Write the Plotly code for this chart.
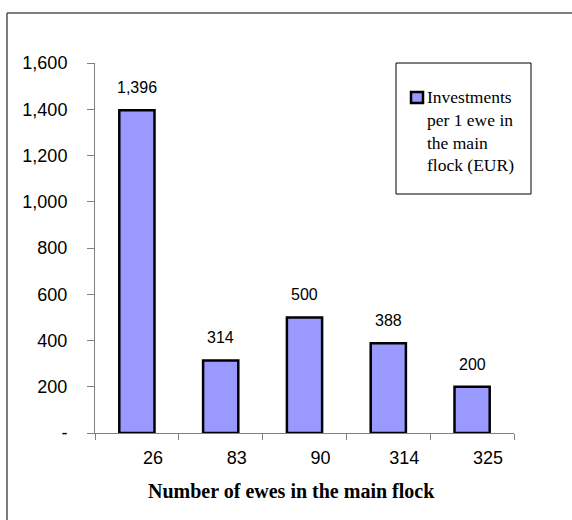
"""Investments per ewe by flock size - bar chart."""

import plotly.graph_objects as go

# data
flock_sizes = ["26", "83", "90", "314", "325"]
investments = [1396, 314, 500, 388, 200]
y_ticks = [0, 200, 400, 600, 800, 1000, 1200, 1400, 1600]
y_tick_text = ["-", "200", "400", "600", "800", "1,000", "1,200", "1,400", "1,600"]
series_name = "Investments<br>per 1 ewe in<br>the main<br>flock (EUR)"
x_title = "Number of ewes in the main flock"

BAR_COLOR = "#9999FF"
AXIS_COLOR = "#808080"
SANS = "Liberation Sans, Arial, sans-serif"
SERIF = "Liberation Serif, Times New Roman, serif"

W, H = 572, 520
L, R, T, B = 95, 58, 63, 87
pw, ph = W - L - R, H - T - B


def px_x(p):
    return (p - L) / pw


def px_y(p):
    return (H - B - p) / ph


fig = go.Figure()
fig.add_trace(go.Bar(
    x=flock_sizes, y=investments, name=series_name,
    marker=dict(color=BAR_COLOR, line=dict(color="black", width=2.5)),
    showlegend=False,
))

# value labels above bars (category index positions, since the names look numeric)
for i, val in enumerate(investments):
    fig.add_annotation(
        x=i, y=val, text=f"{val:,}", showarrow=False,
        yanchor="bottom", yshift=12,
        font=dict(family=SANS, size=16, color="black"),
    )

# axis title, placed a bit left of centre as in the original
fig.add_annotation(
    x=px_x(291), y=px_y(491), xref="paper", yref="paper",
    xanchor="center", yanchor="middle",
    text=f"<b>{x_title}</b>", showarrow=False,
    font=dict(family=SERIF, size=20, color="black"),
)

# legend drawn by hand: box, swatch and wrapped text
fig.add_shape(type="rect", xref="paper", yref="paper",
              x0=px_x(396), x1=px_x(531), y0=px_y(63), y1=px_y(194),
              line=dict(color="black", width=1), fillcolor="white", layer="below")
fig.add_shape(type="rect", xref="paper", yref="paper",
              x0=px_x(411), x1=px_x(423), y0=px_y(92), y1=px_y(103),
              line=dict(color="black", width=2.5), fillcolor=BAR_COLOR)
fig.add_annotation(
    x=px_x(425), y=px_y(131), xref="paper", yref="paper",
    xanchor="left", yanchor="middle", align="left",
    text=series_name, showarrow=False,
    font=dict(family=SERIF, size=17.5, color="black"),
)

# outer frame (top and left edges only)
fig.add_shape(type="line", xref="paper", yref="paper",
              x0=px_x(7), x1=px_x(572), y0=px_y(13), y1=px_y(13),
              line=dict(color="#505050", width=1.5))
fig.add_shape(type="line", xref="paper", yref="paper",
              x0=px_x(7), x1=px_x(7), y0=px_y(13), y1=px_y(520),
              line=dict(color="#505050", width=1.5))

fig.update_layout(
    width=W, height=H,
    margin=dict(l=L, r=R, t=T, b=B),
    plot_bgcolor="white", paper_bgcolor="white",
    bargap=0.58,
    showlegend=False,
)
fig.update_xaxes(
    type="category", range=[-0.5, len(flock_sizes) - 0.5],
    showline=True, linecolor=AXIS_COLOR, linewidth=1,
    ticks="outside", ticklen=6, tickcolor=AXIS_COLOR, tickson="boundaries",
    tickfont=dict(family=SANS, size=18, color="black"),
    ticklabelshift=16, ticklabelstandoff=8,
    showgrid=False, zeroline=False,
)
fig.update_yaxes(
    range=[0, 1600], tickvals=y_ticks, ticktext=y_tick_text,
    showline=True, linecolor=AXIS_COLOR, linewidth=1,
    ticks="outside", ticklen=7, tickcolor=AXIS_COLOR,
    tickfont=dict(family=SANS, size=18, color="black"),
    ticklabelstandoff=16,
    showgrid=False, zeroline=False,
)

# drop the default page margin so the figure sits at the window origin
fig.write_html(
    "out.html",
    config={"displayModeBar": False},
    post_script="document.body.style.margin='0';",
)
